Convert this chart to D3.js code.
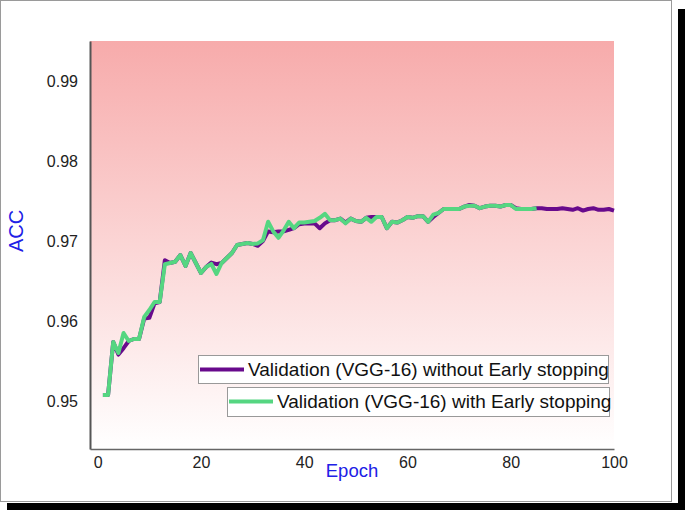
<!DOCTYPE html>
<html><head><meta charset="utf-8">
<script src="https://cdn.jsdelivr.net/npm/d3@7"></script>
<style>body{margin:0;background:#fff;}svg{display:block;font-family:"Liberation Sans",Arial,sans-serif;}</style>
</head><body>
<svg id="c" width="685" height="510"></svg>
<script>
// ---- data ----
const epochs = d3.range(1, 101);
const withoutES = [
0.95075,0.95075,0.95738,0.9558,0.9566,0.9575,0.95775,0.95775,0.9603,0.9604,
0.9622,0.96238,0.9676,0.96725,0.9674,0.96825,0.96688,0.9685,0.96725,0.966,
0.96675,0.9673,0.9671,0.96725,0.96788,0.9685,0.9695,0.96963,0.96975,0.96963,
0.9694,0.9700,0.9712,0.9711,0.9712,0.9712,0.9714,0.9716,0.9721,0.9722,
0.9722,0.9722,0.9716,0.9722,0.9726,0.9726,0.9728,0.9723,0.9728,0.9725,
0.9724,0.9729,0.9730,0.9730,0.9730,0.9716,0.9724,0.9723,0.9726,0.9730,
0.9729,0.9731,0.9731,0.9724,0.9730,0.9735,0.9740,0.9740,0.9740,0.9740,
0.9743,0.9745,0.9744,0.9741,0.9743,0.9744,0.9744,0.9743,0.9745,0.9745,
0.9741,0.9740,0.9740,0.9740,0.9741,0.9741,0.9740,0.9740,0.9740,0.9741,
0.9740,0.9739,0.9741,0.9738,0.9740,0.9741,0.9739,0.9739,0.9740,0.9738];
const withES = [
0.95075,0.95075,0.95738,0.9560,0.9585,0.9575,0.95775,0.95775,0.9605,0.96138,
0.96238,0.96238,0.9671,0.96725,0.9674,0.96825,0.96688,0.9685,0.96725,0.966,
0.96675,0.96713,0.96588,0.96725,0.96788,0.9685,0.9695,0.96963,0.96975,0.96963,
0.9697,0.9701,0.9724,0.9712,0.9704,0.9713,0.9724,0.9716,0.9723,0.9723,
0.9724,0.9725,0.9729,0.9734,0.9726,0.9726,0.9728,0.9722,0.9728,0.9725,
0.9724,0.9729,0.9724,0.9730,0.9730,0.9716,0.9724,0.9723,0.9726,0.9730,
0.9729,0.9731,0.9731,0.9724,0.9733,0.9735,0.9740,0.9740,0.9740,0.9740,
0.9743,0.9744,0.9744,0.9741,0.9743,0.9744,0.9744,0.9743,0.9745,0.9745,
0.9740,0.9740,0.9740,0.9740,0.9741];
const xTicks = [0, 20, 40, 60, 80, 100];
const yTicks = [0.95, 0.96, 0.97, 0.98, 0.99];
const seriesNames = ["Validation (VGG-16) without Early stopping", "Validation (VGG-16) with Early stopping"];
const seriesColors = ["#680a8c", "#55d681"];

// ---- drawing ----
const svg = d3.select("#c");
// frame with shadow
svg.append("rect").attr("x", 678).attr("y", 9).attr("width", 7).attr("height", 501).attr("fill", "#000");
svg.append("rect").attr("x", 7).attr("y", 503).attr("width", 678).attr("height", 7).attr("fill", "#000");
svg.append("rect").attr("x", 0.5).attr("y", 0.5).attr("width", 671).attr("height", 501)
  .attr("fill", "#fff").attr("stroke", "#9a9a9a").attr("stroke-width", 1);

const x = d3.scaleLinear().domain([-1.5, 100]).range([90, 614]);
const y = d3.scaleLinear().domain([0.944, 0.995]).range([449, 41]);

const defs = svg.append("defs");
const grad = defs.append("linearGradient").attr("id", "bg").attr("x1", 0).attr("y1", 0).attr("x2", 0).attr("y2", 1);
grad.append("stop").attr("offset", "0%").attr("stop-color", "#f7abab");
grad.append("stop").attr("offset", "100%").attr("stop-color", "#ffffff");
svg.append("rect").attr("x", x(-1.5)).attr("y", y(0.995)).attr("width", x(100) - x(-1.5)).attr("height", y(0.944) - y(0.995))
  .attr("fill", "url(#bg)");

// axes
const gy = svg.append("g").attr("transform", `translate(${x(-1.5)},0)`)
  .call(d3.axisLeft(y).tickValues(yTicks).tickFormat(d3.format(".2f")).tickSize(0).tickPadding(12));
gy.select(".domain").attr("stroke", "#555").attr("stroke-width", 2);
gy.selectAll("text").attr("font-size", 16).attr("fill", "#222").attr("font-family", "Liberation Sans, Arial, sans-serif");

const gx = svg.append("g").attr("transform", `translate(0,${y(0.944)})`)
  .call(d3.axisBottom(x).tickValues(xTicks).tickFormat(d3.format("d")).tickSize(0).tickPadding(8));
gx.select(".domain").attr("stroke", "#666").attr("stroke-width", 1.5);
gx.selectAll("text").attr("font-size", 16).attr("fill", "#222").attr("font-family", "Liberation Sans, Arial, sans-serif");

// lines
const line = d3.line().x((d, i) => x(epochs[i])).y(d => y(d));
svg.append("path").datum(withoutES).attr("d", line).attr("fill", "none")
  .attr("stroke", seriesColors[0]).attr("stroke-width", 4).attr("stroke-linejoin", "round");
svg.append("path").datum(withES).attr("d", line).attr("fill", "none")
  .attr("stroke", seriesColors[1]).attr("stroke-width", 4).attr("stroke-linejoin", "round");

// axis titles
svg.append("text").attr("transform", "translate(23,231) rotate(-90)").attr("text-anchor", "middle")
  .attr("font-size", 20).attr("fill", "#2020e6").text("ACC");
svg.append("text").attr("x", 352).attr("y", 477).attr("text-anchor", "middle")
  .attr("font-size", 18.5).attr("fill", "#2020e6").text("Epoch");

// legends
const leg = [
  {bx: 198, by: 355, bw: 410, bh: 28},
  {bx: 227, by: 387, bw: 382, bh: 29}
];
leg.forEach((L, i) => {
  const g = svg.append("g");
  g.append("rect").attr("x", L.bx + 0.5).attr("y", L.by + 0.5).attr("width", L.bw).attr("height", L.bh)
    .attr("fill", "#fff").attr("stroke", "#999");
  g.append("line").attr("x1", L.bx + 2).attr("x2", L.bx + 46).attr("y1", L.by + 14.5).attr("y2", L.by + 14.5)
    .attr("stroke", seriesColors[i]).attr("stroke-width", 4);
  g.append("text").attr("x", L.bx + 50).attr("y", L.by + 21).attr("font-size", 19).attr("fill", "#111")
    .text(seriesNames[i]);
});
</script>
</body></html>
